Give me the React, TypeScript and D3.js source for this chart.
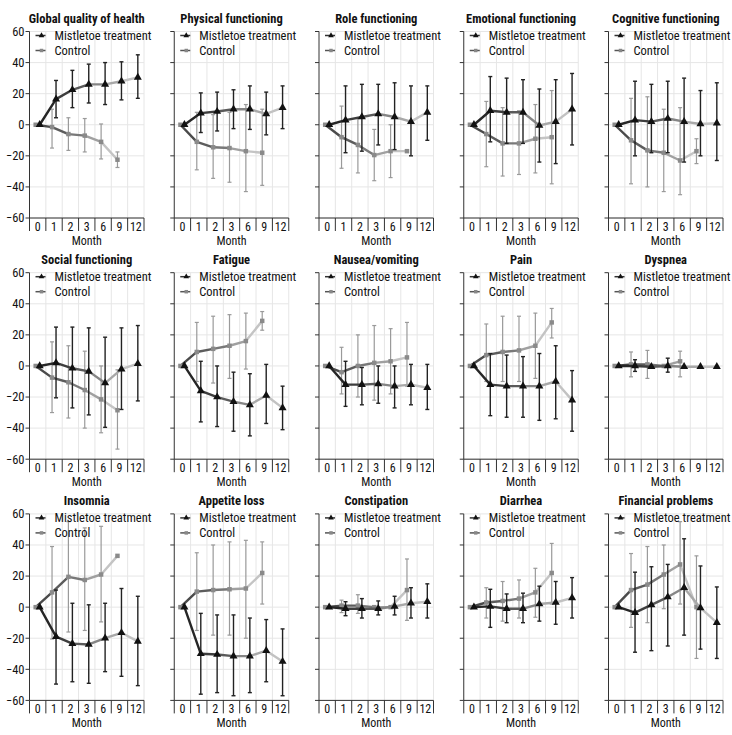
import React from "react";
import * as d3 from "d3";

// ---- data ----
const MONTHS = ["0", "1", "2", "3", "6", "9", "12"];
const Y_TICKS = [-60, -40, -20, 0, 20, 40, 60];
const SERIES_NAMES = ["Mistletoe treatment", "Control"];
const TITLES = [
  "Global quality of health", "Physical functioning", "Role functioning", "Emotional functioning", "Cognitive functioning",
  "Social functioning", "Fatigue", "Nausea/vomiting", "Pain", "Dyspnea",
  "Insomnia", "Appetite loss", "Constipation", "Diarrhea", "Financial problems",
];

type P = [number, number | null, number | null] | null;
// each entry: [mean, lower, upper] per month
const gqT: P[] = [[0, null, null], [16.5, 4.5, 28.5], [22.5, 11, 35], [26, 14, 39], [26, 13, 40], [28, 16, 40.5], [30.5, 17, 45]];
const gqC: P[] = [[0, null, null], [-1.5, -15, 10], [-6, -16.5, 4.5], [-7, -17.5, 4], [-11, -22, 0.5], [-22.5, -27.5, -17.5], null];
const pfT: P[] = [[0, null, null], [7.5, -5, 20.5], [8.5, -4, 21], [10, -2.5, 22.5], [10, -3, 25], [7, -6.5, 21], [11, -2.5, 25]];
const pfC: P[] = [[0, null, null], [-11, -29, 8], [-14.5, -34.5, 6.5], [-15, -37, 8], [-17, -43, 13], [-18, -39, 10], null];
const rfT: P[] = [[0, null, null], [3, -18, 25], [5, -17, 26], [7, -13, 26], [5, -16, 27], [2, -20, 25], [8, -10, 25]];
const rfC: P[] = [[0, null, null], [-8, -28, 12], [-13, -31, 4], [-19.5, -36, -3], [-17, -34, 0], [-17, null, null], null];
const efT: P[] = [[0, null, null], [9, -11, 31], [8, -12, 30], [8, -12, 29], [-0.5, -24, 23], [2, -25, 29], [10, -13, 33]];
const efC: P[] = [[0, null, null], [-6, -27, 15], [-12, -33, 11], [-12, -32, 9], [-9, -31, 13], [-8, -38, 22], null];
const cfT: P[] = [[0, null, null], [3, -20, 28], [2, -18, 26], [4, -18, 28], [2, -24, 30], [0.5, -20, 22], [1, -23, 27]];
const cfC: P[] = [[0, null, null], [-10, -38, 17], [-16.5, -40, 18], [-18, -43, 10], [-23, -45, 11], [-17, -25, -9], null];
const sfT: P[] = [[0, null, null], [2, -20.5, 25], [-1.5, -27, 25], [-3.5, -31.5, 24.5], [-11, -39.5, 18.5], [-2, -28, 24.5], [1.5, -22.5, 26]];
const sfC: P[] = [[0, null, null], [-7.5, -30, 15.5], [-10.5, -33.5, 13], [-15.5, -40, 9.5], [-21.5, -43, 0], [-28.5, -53.5, -2.5], null];
const faT: P[] = [[0, null, null], [-16, -36, 3], [-20, -39, 0], [-23, -42, -4], [-25, -45, -5], [-19, -37, 1], [-27, -41, -13]];
const faC: P[] = [[0, null, null], [9, -10, 28], [11, -11, 32], [13, -8, 33], [16, -2, 34], [29, 23, 35], null];
const nvT: P[] = [[0, null, null], [-12, -26, 3], [-12, -25, -1], [-11.5, -24, 0], [-13, -27, 0], [-12, -25, 1], [-14, -28, 1]];
const nvC: P[] = [[0, null, null], [-4, -18, 12], [0, -20, 20], [2, -22, 26], [3, -18, 24], [5.5, -13, 28], null];
const paT: P[] = [[0, null, null], [-12, -32, 8], [-13, -33, 7], [-13, -33, 6], [-13, -35, 8], [-10, -34, 13], [-22, -42, -3]];
const paC: P[] = [[0, null, null], [7, -10, 27], [9, -10, 32], [10, -10, 32], [13, -8, 34], [28, 18, 37], null];
const dyT: P[] = [[0, null, null], [0, -3.5, 4], [-0.5, null, null], [0, -4, 5], [-0.5, null, null], [-0.5, null, null], [-0.5, null, null]];
const dyC: P[] = [[0, null, null], [1, -7, 9], [1, -8, 10], [0, null, null], [3, -7, 9.5], null, null];
const inT: P[] = [[0, null, null], [-19, -49.5, 11], [-23.5, -48, 2.5], [-24, -49, 1.5], [-20, -41.5, 2.5], [-16.5, -44.5, 12], [-22, -50.5, 7]];
const inC: P[] = [[0, null, null], [9.5, -20.5, 39], [19.5, -16, 55], [17.5, -15, 51], [21, -9.5, 52], [33, null, null], null];
const alT: P[] = [[0, null, null], [-30, -56, -4], [-30.5, -55, -5], [-31.5, -57, -5], [-31.5, -55, -7], [-28, -48, -8], [-35, -57, -14]];
const alC: P[] = [[0, null, null], [10, -15, 35], [11, -18, 40], [11.5, -18, 42], [12, -20, 43], [22, 2, 42], null];
const coT: P[] = [[0, null, null], [-1, -5.5, 3.5], [-1, -7, 5.5], [-1, -5, 4], [0.5, -5, 7], [2.5, -7, 12.5], [3.5, -7, 15]];
const coC: P[] = [[0, null, null], [1, -3.5, 4.5], [1, -4, 8], [0, null, null], [0, null, null], [11, -8.5, 31], null];
const diT: P[] = [[0, null, null], [0.5, -13, 11.5], [-1, -10, 8.5], [-1, -10, 9], [2, -9, 13.5], [3, -11, 16.5], [6, -7, 19]];
const diC: P[] = [[0, null, null], [3, -7, 12.5], [4, -9, 16.5], [5.5, -7, 17.5], [9.5, -6.5, 25], [22, 2, 41], null];
const fpT: P[] = [[0, null, null], [-3.5, -29, 22.5], [1.5, -28, 26], [6.5, -25, 27.5], [12.5, -18, 44], [-0.5, -27, 26.5], [-10, -33, 13]];
const fpC: P[] = [[0, null, null], [11, -13, 34.5], [14.5, -10, 39], [21, -1, 40], [27.5, 2, 55], [0, -33, 33], null];

const TREAT = [gqT, pfT, rfT, efT, cfT, sfT, faT, nvT, paT, dyT, inT, alT, coT, diT, fpT];
const CTRL = [gqC, pfC, rfC, efC, cfC, sfC, faC, nvC, paC, dyC, inC, alC, coC, diC, fpC];

// ---- styles ----
const FONT = "'Liberation Sans Narrow', 'Arial Narrow', 'Roboto Condensed', 'DejaVu Sans Condensed', sans-serif";
const TREAT_SEG = ["#262626", "#3d3d3d", "#5a5a5a", "#858585", "#a8a8a8", "#c2c2c2"];
const CTRL_SEG = ["#4a4a4a", "#5c5c5c", "#787878", "#a0a0a0", "#c4c4c4", "#d4d4d4"];

const COL_X0 = 29.5, COL_STEP = 144.75, PW = 114.5;
const ROW_Y0 = 31.5, ROW_STEP = 241.2, PH = 186.5;

const triPath = d3.symbol(d3.symbolTriangle, 28)()!;
const triLegend = d3.symbol(d3.symbolTriangle, 14)()!;
const sqPath = d3.symbol(d3.symbolSquare, 20)()!;
const sqLegend = d3.symbol(d3.symbolSquare, 12)()!;

function Series({ data, x, y, dx, segColors, barColor, barW, marker, markerColor }: any) {
  const pts = MONTHS.map((m, i) => ({ m, d: data[i] as P })).filter((p) => p.d !== null) as { m: string; d: [number, number | null, number | null] }[];
  const cx = (m: string) => (x(m) as number) + x.bandwidth() / 2 + dx;
  const segs = [];
  for (let i = 0; i < pts.length - 1; i++) {
    segs.push(
      <line key={"s" + i} x1={cx(pts[i].m)} y1={y(pts[i].d[0])} x2={cx(pts[i + 1].m)} y2={y(pts[i + 1].d[0])}
        stroke={segColors[Math.min(i, segColors.length - 1)]} strokeWidth={2.4} strokeLinecap="round" />
    );
  }
  return (
    <g>
      {segs}
      {pts.map((p, i) =>
        p.d[1] !== null && p.d[2] !== null ? (
          <g key={"e" + i} stroke={barColor} strokeWidth={barW}>
            <line x1={cx(p.m)} x2={cx(p.m)} y1={y(p.d[1])} y2={y(p.d[2])} />
            <line x1={cx(p.m) - 2} x2={cx(p.m) + 2} y1={y(p.d[1])} y2={y(p.d[1])} />
            <line x1={cx(p.m) - 2} x2={cx(p.m) + 2} y1={y(p.d[2])} y2={y(p.d[2])} />
          </g>
        ) : null
      )}
      {pts.map((p, i) => (
        <path key={"m" + i} d={marker} transform={`translate(${cx(p.m)},${y(p.d[0])})`} fill={markerColor} />
      ))}
    </g>
  );
}

function Panel({ k }: { k: number }) {
  const col = k % 5, row = Math.floor(k / 5);
  const x0 = COL_X0 + col * COL_STEP;
  const y0 = ROW_Y0 + row * ROW_STEP;
  const x = d3.scaleBand<string>().domain(MONTHS).range([x0, x0 + PW]);
  const y = d3.scaleLinear().domain([-60, 60]).range([y0 + PH, y0]);
  const bounds = MONTHS.map((m) => x(m) as number).concat([x0 + PW]);
  const bottom = y0 + PH;
  return (
    <g fontFamily={FONT}>
      {/* grid */}
      {Y_TICKS.map((t) => (
        <line key={"gy" + t} x1={x0} x2={x0 + PW} y1={y(t)} y2={y(t)} stroke="#e6e6e6" strokeWidth={1} />
      ))}
      {bounds.slice(1).map((b, i) => (
        <line key={"gx" + i} x1={b} x2={b} y1={y0} y2={bottom} stroke="#e6e6e6" strokeWidth={1} />
      ))}
      {/* title */}
      <text x={x0 + PW / 2} y={y0 - 9} textAnchor="middle" fontWeight="bold" fontSize={12.5} fill="#111">{TITLES[k]}</text>
      {/* y axis */}
      <line x1={x0} x2={x0} y1={y0} y2={bottom} stroke="#333" strokeWidth={1} />
      {Y_TICKS.map((t) => (
        <g key={"yt" + t}>
          <line x1={x0 - 4} x2={x0} y1={y(t)} y2={y(t)} stroke="#333" strokeWidth={1} />
          {col === 0 && (
            <text x={x0 - 5} y={y(t)} dy="0.35em" textAnchor="end" fontSize={12.5} fill="#111">{d3.format("")(t).replace("-", "\u2212")}</text>
          )}
        </g>
      ))}
      {/* x axis */}
      <line x1={x0} x2={x0 + PW} y1={bottom} y2={bottom} stroke="#333" strokeWidth={1} />
      {bounds.map((b, i) => (
        <line key={"xd" + i} x1={b} x2={b} y1={bottom} y2={bottom + 13} stroke="#333" strokeWidth={1} />
      ))}
      {MONTHS.map((m) => (
        <text key={"xl" + m} x={(x(m) as number) + x.bandwidth() / 2} y={bottom + 12.5} textAnchor="middle" fontSize={12} fill="#111">{m}</text>
      ))}
      <text x={x0 + PW / 2} y={bottom + 26.5} textAnchor="middle" fontSize={12} fill="#111">Month</text>
      {/* series */}
      <Series data={CTRL[k]} x={x} y={y} dx={-2} segColors={CTRL_SEG} barColor="#9a9a9a" barW={1.2} marker={sqPath} markerColor="#8a8a8a" />
      <Series data={TREAT[k]} x={x} y={y} dx={2} segColors={TREAT_SEG} barColor="#222" barW={1.4} marker={triPath} markerColor="#111" />
      {/* legend */}
      <g>
        <line x1={x0 + 6} x2={x0 + 16} y1={y0 + 4} y2={y0 + 4} stroke="#333" strokeWidth={1.5} />
        <path d={triLegend} transform={`translate(${x0 + 12},${y0 + 4})`} fill="#111" />
        <text x={x0 + 25} y={y0 + 4} dy="0.35em" fontSize={12.5} fill="#111">{SERIES_NAMES[0]}</text>
        <line x1={x0 + 6} x2={x0 + 16} y1={y0 + 19} y2={y0 + 19} stroke="#555" strokeWidth={1.5} />
        <path d={sqLegend} transform={`translate(${x0 + 12},${y0 + 19})`} fill="#888" />
        <text x={x0 + 25} y={y0 + 19} dy="0.35em" fontSize={12.5} fill="#111">{SERIES_NAMES[1]}</text>
      </g>
    </g>
  );
}

export default function App() {
  return (
    <svg width={732} height={735} style={{ position: "absolute", left: 0, top: 0, background: "#fff" }}>
      <rect width={732} height={735} fill="#fff" />
      {TITLES.map((_, k) => (
        <Panel key={k} k={k} />
      ))}
    </svg>
  );
}
